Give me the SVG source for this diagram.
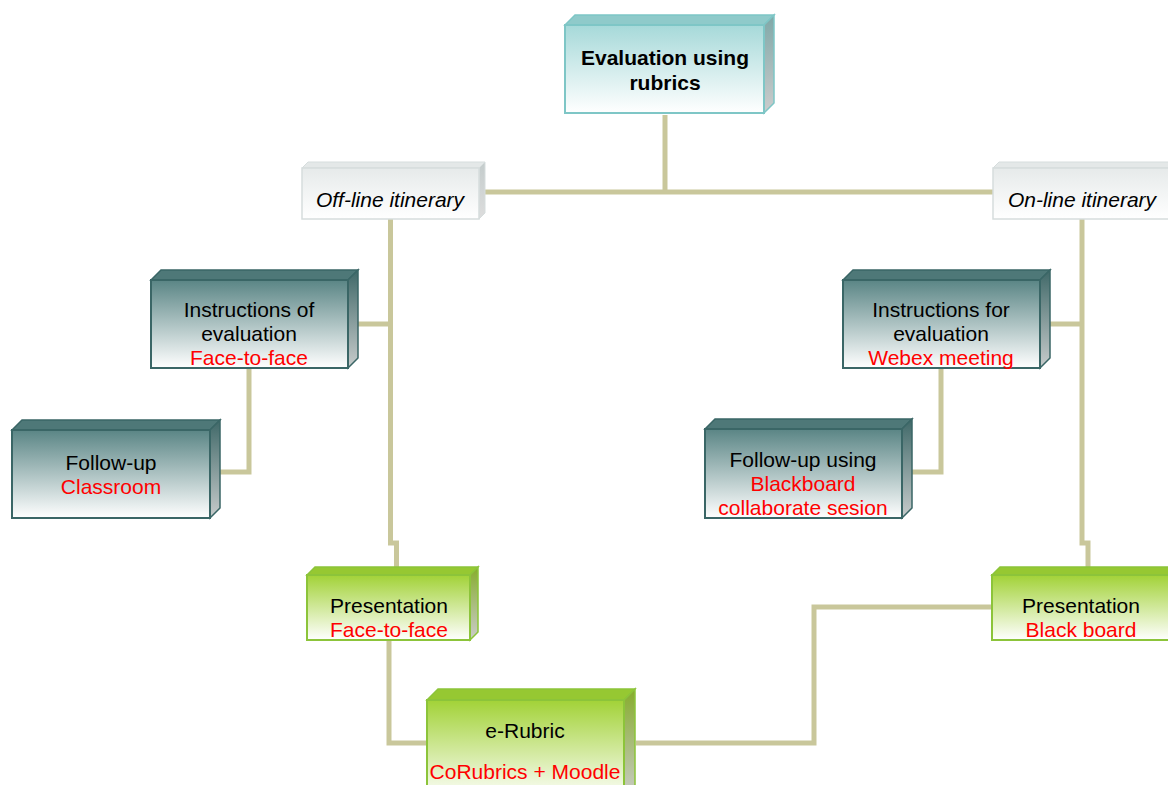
<svg xmlns="http://www.w3.org/2000/svg" width="1168" height="785" viewBox="0 0 1168 785">
<defs>
<linearGradient id="gTeal" x1="0" y1="0" x2="0" y2="1"><stop offset="0" stop-color="#5a8585"/><stop offset="1" stop-color="#ffffff"/></linearGradient>
<linearGradient id="gTealSide" x1="0" y1="0" x2="0" y2="1"><stop offset="0" stop-color="#3f6868"/><stop offset="1" stop-color="#c8cccc"/></linearGradient>
<linearGradient id="gCyan" x1="0" y1="0" x2="0" y2="1"><stop offset="0" stop-color="#a6d9d9"/><stop offset="1" stop-color="#ffffff"/></linearGradient>
<linearGradient id="gCyanSide" x1="0" y1="0" x2="0" y2="1"><stop offset="0" stop-color="#7fa8a8"/><stop offset="1" stop-color="#cccccc"/></linearGradient>
<linearGradient id="gGrey" x1="0" y1="0" x2="0" y2="1"><stop offset="0" stop-color="#e6eaea"/><stop offset="1" stop-color="#ffffff"/></linearGradient>
<linearGradient id="gGreySide" x1="0" y1="0" x2="0" y2="1"><stop offset="0" stop-color="#c4cccc"/><stop offset="1" stop-color="#dddddd"/></linearGradient>
<linearGradient id="gGreen" x1="0" y1="0" x2="0" y2="1"><stop offset="0" stop-color="#a2d237"/><stop offset="1" stop-color="#ffffff"/></linearGradient>
<linearGradient id="gGreenSide" x1="0" y1="0" x2="0" y2="1"><stop offset="0" stop-color="#86ac2c"/><stop offset="1" stop-color="#cccccc"/></linearGradient>
</defs>
<style>
text{font-family:"Liberation Sans",Arial,sans-serif;font-size:21px;text-anchor:middle;fill:#000}
.red{fill:#ff0000}
.bold{font-weight:bold;font-size:21px}
.it{font-style:italic}
.teal .f{fill:url(#gTeal);stroke:#3a6666;stroke-width:2}
.teal .t{fill:#4e7878;stroke:#3a6666;stroke-width:1.5}
.teal .s{fill:url(#gTealSide);stroke:#3a6666;stroke-width:1.5}
.cyan .f{fill:url(#gCyan);stroke:#7ec6c6;stroke-width:2}
.cyan .t{fill:#8fcaca;stroke:#7ec6c6;stroke-width:1.5}
.cyan .s{fill:url(#gCyanSide);stroke:#7ec6c6;stroke-width:1.5}
.grey .f{fill:url(#gGrey);stroke:#d6dddd;stroke-width:1.5}
.grey .t{fill:#e4e8e8;stroke:#d6dddd;stroke-width:1}
.grey .s{fill:url(#gGreySide);stroke:#d6dddd;stroke-width:1}
.green .f{fill:url(#gGreen);stroke:#8cc43a;stroke-width:2}
.green .t{fill:#96c832;stroke:#8cc43a;stroke-width:1.5}
.green .s{fill:url(#gGreenSide);stroke:#8cc43a;stroke-width:1.5}
#connectors path{fill:none;stroke:#c9c79b;stroke-width:5}
</style>
<g id="connectors">
<path d="M665,115 V192"/>
<path d="M485,192 H993"/>
<path d="M390.5,219 V543 H396.5 V575"/>
<path d="M358,324 H390.5"/>
<path d="M249,368 V472 H220"/>
<path d="M389,640 V743 H427"/>
<path d="M636,743 H814 V607 H992"/>
<path d="M1082,219 V543 H1088 V575"/>
<path d="M1050,324 H1082"/>
<path d="M941,368 V472 H912"/>
</g>
<g id="n-top" class="cyan">
<polygon class="t" points="565,25 575,15 774,15 764,25"/>
<polygon class="s" points="764,25 774,15 774,103 764,113"/>
<rect class="f" x="565" y="25" width="199" height="88"/>
<text class="bold" x="665" y="65">Evaluation using</text>
<text class="bold" x="665" y="90">rubrics</text>
</g>
<g id="n-offline" class="grey">
<polygon class="t" points="302,168 308,162 485,162 479,168"/>
<polygon class="s" points="479,168 485,162 485,213 479,219"/>
<rect class="f" x="302" y="168" width="177" height="51"/>
<text class="it" x="390" y="207">Off-line itinerary</text>
</g>
<g id="n-online" class="grey">
<polygon class="t" points="993,168 999,162 1189,162 1183,168"/>
<rect class="f" x="993" y="168" width="190" height="51"/>
<text class="it" x="1082" y="207">On-line itinerary</text>
</g>
<g id="n-instr-off" class="teal">
<polygon class="t" points="151,280 161,270 358,270 348,280"/>
<polygon class="s" points="348,280 358,270 358,358 348,368"/>
<rect class="f" x="151" y="280" width="197" height="88"/>
<text x="249" y="317">Instructions of</text>
<text x="249" y="341">evaluation</text>
<text class="red" x="249" y="365">Face-to-face</text>
</g>
<g id="n-follow-off" class="teal">
<polygon class="t" points="12,430 22,420 220,420 210,430"/>
<polygon class="s" points="210,430 220,420 220,508 210,518"/>
<rect class="f" x="12" y="430" width="198" height="88"/>
<text x="111" y="470">Follow-up</text>
<text class="red" x="111" y="494">Classroom</text>
</g>
<g id="n-pres-off" class="green">
<polygon class="t" points="307,575 315,567 478,567 470,575"/>
<polygon class="s" points="470,575 478,567 478,632 470,640"/>
<rect class="f" x="307" y="575" width="163" height="65"/>
<text x="389" y="613">Presentation</text>
<text class="red" x="389" y="637">Face-to-face</text>
</g>
<g id="n-erubric" class="green">
<polygon class="t" points="427,700 438,689 635,689 624,700"/>
<polygon class="s" points="624,700 635,689 635,789 624,800"/>
<rect class="f" x="427" y="700" width="197" height="100"/>
<text x="525" y="738">e-Rubric</text>
<text class="red" x="525" y="779">CoRubrics + Moodle</text>
</g>
<g id="n-instr-on" class="teal">
<polygon class="t" points="843,280 853,270 1050,270 1040,280"/>
<polygon class="s" points="1040,280 1050,270 1050,358 1040,368"/>
<rect class="f" x="843" y="280" width="197" height="88"/>
<text x="941" y="317">Instructions for</text>
<text x="941" y="341">evaluation</text>
<text class="red" x="941" y="365">Webex meeting</text>
</g>
<g id="n-follow-on" class="teal">
<polygon class="t" points="705,429 715,419 912,419 902,429"/>
<polygon class="s" points="902,429 912,419 912,508 902,518"/>
<rect class="f" x="705" y="429" width="197" height="89"/>
<text x="803" y="467">Follow-up using</text>
<text class="red" x="803" y="491">Blackboard</text>
<text class="red" x="803" y="515">collaborate sesion</text>
</g>
<g id="n-pres-on" class="green">
<polygon class="t" points="992,575 1000,567 1190,567 1182,575"/>
<rect class="f" x="992" y="575" width="190" height="65"/>
<text x="1081" y="613">Presentation</text>
<text class="red" x="1081" y="637">Black board</text>
</g>
</svg>
